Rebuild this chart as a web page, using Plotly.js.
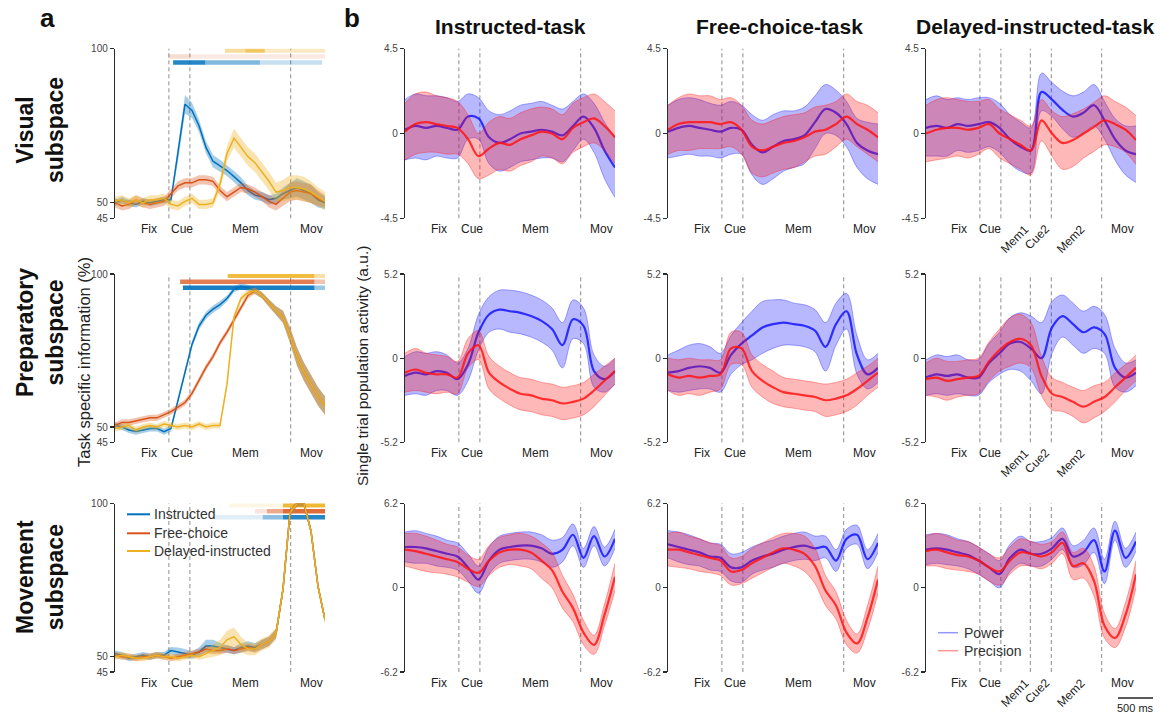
<!DOCTYPE html>
<html><head><meta charset="utf-8">
<script src="https://cdn.plot.ly/plotly-3.0.1.min.js"></script>
<style>html,body{margin:0;padding:0;background:#fff}#chart{width:1166px;height:715px}</style>
</head><body><div id="chart"></div>
<script>
// ---------- time axes (ms) ----------
const tA = [0,100,200,300,400,500,600,700,800,900,1000,1100,1200,1300,1400,1500,1600,1700,1800,1900,2000,2100,2200,2300,2400,2500,2600,2700,2800,2900,3000];
const tB = [0,150,300,450,600,750,900,1050,1200,1350,1500,1650,1800,1950,2100,2250,2400,2550,2700,2850,3000];

// ---------- events and labels ----------
const eventsStd = [770,1070,2510];
const eventsDel = [770,1070,1490,1790,2510];
const labelsStd = ['Fix','Cue','Mem','Mov'];
const labelPosStd = [480,957,1870,2810];
const labelsDel = ['Fix','Cue','Mem1','Cue2','Mem2','Mov'];
const labelPosDel = [470,910,1270,1590,2070,2810];
const labelsDelRotated = [false,false,true,true,true,false];

// ---------- panel a: task specific information (%) ----------
const visInstr = [50,51,50,49.5,50.5,50,50.5,51,51,66,82,80,75,68,63.5,62,60.5,58.5,56.5,54,52.5,52,51,51.5,53,54,55,54,53,51,50];
const visFree  = [50,49,49.5,51,50,49.5,50,50.5,53,55.5,56.5,56.5,57.5,57.5,57,54,52,53.5,55,54.5,53.5,52,50.5,49.5,51.5,53.5,54,53.5,53,51.5,50.5];
const visDel   = [50.5,51,50,51,50,51,51,51.5,49.5,49,50.5,51.5,49.5,49.5,50,56,66,71,68,65,63,60,57,53.5,54,55,55,54.5,53.5,52,50.5];
const visInstrSem = [1,1,1,1,1,1,1,1,1,2.5,3,2.5,2,2,2,2,1.8,1.8,1.8,1.5,1.5,1.5,1.5,1.5,2,2.5,3,3,3,2.5,2];
const visFreeSem  = [1.5,1.5,1.5,1.5,1.5,1.5,1.5,1.5,1.5,1.5,1.5,1.5,1.5,1.5,1.5,1.5,1.5,1.5,1.5,1.5,1.5,1.5,2,2,2.5,3,3,3,3,2.5,2];
const visDelSem   = [1.5,1.5,1.5,1.5,1.5,1.5,1.5,1.5,1.5,1.5,1.5,1.5,1.5,1.5,1.5,2,2.5,3,3,3,3,3,3,3,3.5,4,4,4,3.5,3,3];

const prepInstr = [50.5,50,49,48.5,49,49.5,49.5,48.5,49.5,59,68,77,83,86.5,88.5,90,92,95,96,95.5,94.5,93,90.5,88,86,80,73,68,64,60,57];
const prepFree  = [50.5,51.5,51.5,52,52.5,53,53,54,55,56.5,58,61,65.5,69.5,73,77.5,81,85,89,93,94.5,93,90.5,88,86,80,73,68,64,60,57];
const prepDel   = [49.5,50,50.5,49,50,50.5,50,51,50.5,50,50.5,50,51,50,50.5,50.5,64,86,92,94,94.5,93,90.5,88,86,80,73,68,64,60,57];
const prepInstrSem = [1,1,1,1,1,1,1,1,1,1.2,1.2,1.2,1.2,1.2,1.2,1.2,1,1,1,1,1,1,1.2,1.5,2,2.5,3,3,3,3,3];
const prepFreeSem  = [1,1,1,1,1,1,1,1,1,1,1,1,1,1,1,1,1,1,1,1,1,1,1.2,1.5,2,2.5,3,3,3,3,3];
const prepDelSem   = [1,1,1,1,1,1,1,1,1,1,1,1,1,1,1,1,1,1,1,1,1,1,1.2,1.5,2,2.5,3,3,3,3,3];

const movInstr = [51,50.5,49.5,50,50.5,50,50.5,50.5,52,51.5,51,50.5,51.5,53.5,53.5,53,52.5,52,53,53.5,53,54,55,57.5,72,97,100,100,91,73,62];
const movFree  = [50.5,50,50,49.5,50,50,50.5,50,49.5,50,50.5,51,51.5,52.5,52,52,52.5,52,52.5,53,52.5,54,55,57.5,72,97,100,100,91,73,62];
const movDel   = [50,50.5,50,49.5,49.5,50,50.5,50,50,49.5,50,50.5,50,51,52,53,55.5,56.5,54,52.5,52.5,54,55,57.5,72,97,100,100,91,73,62];
const movInstrSem = [1,1,1,1,1,1,1,1,1.2,1.5,1.5,1.2,1.5,2,2,1.5,1.2,1.2,1.5,1.5,1.5,1.5,1.5,1.5,1.5,1,1,1,1,1,1];
const movFreeSem  = [1,1,1,1,1,1,1,1,1,1,1,1,1,1.2,1.2,1.2,1.2,1.2,1.2,1.2,1.2,1.5,1.5,1.5,1.5,1,1,1,1,1,1];
const movDelSem   = [1,1,1,1,1,1,1,1,1,1,1,1,1,1.5,2,2.5,3,3,2.5,2,2,2,2,2,1.5,1,1,1,1,1,1];

// significance bars: [start ms, end ms, strength]
const sigLevels = [95.5, 97.5, 99.4]; // instructed, free-choice, delayed
const sigVisInstr = [[830,1290,0.85],[1290,2070,0.5],[2070,2960,0.22]];
const sigVisFree  = [[760,1070,0.2],[1070,3000,0.12]];
const sigVisDel   = [[1570,1860,0.45],[1860,2140,0.7],[2140,3000,0.28]];
const sigPrepInstr = [[970,2850,0.9],[2850,3000,0.4]];
const sigPrepFree  = [[930,2850,0.75],[2850,3000,0.35]];
const sigPrepDel   = [[1610,2850,0.85],[2850,3000,0.4]];
const sigMovInstr = [[1430,2110,0.12],[2110,2400,0.45],[2400,3000,0.85]];
const sigMovFree  = [[2000,2170,0.15],[2170,2400,0.5],[2400,3000,0.85]];
const sigMovDel   = [[1640,2400,0.12],[2400,3000,0.9]];

// ---------- panel b: single trial population activity (a.u.) ----------
// row 1 (visual subspace)
const r1c1Pow = [0.2,0.4,0.3,0.4,0.3,0.2,0.9,0.8,-0.2,-0.5,-0.3,0.0,0.1,0.2,0.1,-0.1,0.4,0.9,0.3,-0.9,-1.8];
const r1c1PowSd = [1.6,1.7,1.7,1.6,1.6,1.5,1.2,1.1,1.4,1.5,1.5,1.5,1.5,1.5,1.4,1.4,1.3,1.2,1.3,1.5,1.6];
const r1c1Pre = [0.1,0.5,0.6,0.5,0.4,0.3,-0.3,-1.2,-0.8,-0.5,-0.6,-0.3,-0.1,0.1,0.0,-0.3,0.3,0.6,0.8,0.4,-0.2];
const r1c1PreSd = [1.5,1.6,1.6,1.5,1.5,1.4,1.3,1.2,1.4,1.4,1.4,1.4,1.4,1.3,1.3,1.3,1.3,1.3,1.3,1.3,1.4];
const r1c2Pow = [0.1,0.3,0.4,0.3,0.2,0.1,0.3,0.2,-0.6,-1.0,-0.7,-0.4,-0.3,-0.1,0.6,1.3,1.1,0.5,-0.5,-0.9,-1.1];
const r1c2PowSd = [1.4,1.5,1.5,1.5,1.4,1.4,1.4,1.3,1.6,1.7,1.7,1.6,1.5,1.5,1.4,1.3,1.2,1.2,1.3,1.5,1.6];
const r1c2Pre = [0.2,0.5,0.6,0.6,0.6,0.5,0.6,0.2,-0.7,-0.9,-0.7,-0.5,-0.4,-0.2,0.1,0.2,0.5,0.9,0.5,0.2,-0.2];
const r1c2PreSd = [1.3,1.4,1.5,1.4,1.4,1.3,1.3,1.3,1.4,1.4,1.4,1.4,1.4,1.3,1.3,1.3,1.2,1.2,1.2,1.3,1.3];
const r1c3Pow = [0.3,0.4,0.3,0.5,0.4,0.5,0.6,0.3,-0.3,-0.7,-0.9,2.2,1.8,1.25,0.9,1.1,1.5,0.7,-0.3,-0.9,-1.1];
const r1c3PowSd = [1.5,1.6,1.5,1.4,1.4,1.4,1.3,1.3,1.3,1.3,1.2,1.0,0.9,1.0,1.1,1.1,1.1,1.0,1.1,1.3,1.5];
const r1c3Pre = [0.0,0.2,0.3,0.3,0.2,0.3,0.5,0.0,-0.3,-0.6,-0.9,0.7,0.0,-0.5,-0.35,0.0,0.35,0.7,0.5,0.2,-0.35];
const r1c3PreSd = [1.5,1.6,1.6,1.5,1.5,1.4,1.3,1.3,1.3,1.3,1.3,1.1,1.2,1.4,1.4,1.3,1.3,1.3,1.2,1.2,1.3];
// row 2 (preparatory subspace)
const r2c1Pow = [-1.1,-0.9,-1.0,-0.8,-0.9,-1.3,-0.4,1.6,2.7,3.0,2.9,2.8,2.6,2.3,1.8,0.8,2.4,2.0,-0.8,-1.3,-0.8];
const r2c1PowSd = [1.2,1.3,1.3,1.2,1.1,1.0,1.0,1.1,1.1,1.2,1.3,1.3,1.3,1.3,1.3,1.4,1.2,1.1,1.0,0.8,0.8];
const r2c1Pre = [-0.9,-0.7,-0.9,-1.0,-1.0,-1.2,0.3,0.8,-0.9,-1.5,-1.9,-2.2,-2.3,-2.5,-2.6,-2.8,-2.7,-2.5,-2.0,-1.4,-0.8];
const r2c1PreSd = [1.2,1.3,1.2,1.2,1.1,1.0,0.9,0.9,1.0,1.0,1.0,1.0,1.0,1.0,1.0,1.0,1.0,1.0,1.0,0.9,0.8];
const r2c2Pow = [-0.9,-0.8,-0.6,-0.5,-0.6,-0.9,0.2,0.9,1.4,1.9,2.1,2.2,2.1,2.0,1.7,0.7,2.1,2.9,0.2,-1.0,-0.6];
const r2c2PowSd = [1.1,1.3,1.4,1.4,1.3,1.2,1.2,1.3,1.5,1.6,1.5,1.4,1.3,1.3,1.3,1.5,1.3,1.1,1.2,0.9,0.9];
const r2c2Pre = [-1.0,-1.2,-1.1,-1.2,-1.1,-1.0,0.6,0.6,-0.8,-1.4,-1.8,-2.1,-2.2,-2.3,-2.4,-2.6,-2.5,-2.3,-1.9,-1.4,-0.9];
const r2c2PreSd = [1.0,1.1,1.1,1.1,1.0,0.9,1.0,1.0,1.0,1.0,1.0,0.9,0.9,0.9,0.9,1.0,1.0,1.0,1.0,0.9,0.9];
const r2c3Pow = [-1.2,-1.0,-1.1,-1.0,-1.2,-1.2,-0.3,0.3,0.9,1.0,0.6,0.0,1.9,2.6,2.1,1.6,1.9,1.5,-0.6,-1.2,-0.9];
const r2c3PowSd = [1.1,1.2,1.2,1.2,1.1,1.1,1.2,1.3,1.6,1.8,2.0,2.2,1.6,1.3,1.3,1.3,1.3,1.2,1.2,0.9,0.8];
const r2c3Pre = [-1.3,-1.2,-1.4,-1.3,-1.2,-1.1,-0.2,0.5,1.0,1.2,0.8,-1.1,-2.2,-2.4,-2.7,-3.0,-2.7,-2.4,-1.8,-1.2,-0.6];
const r2c3PreSd = [1.0,1.2,1.2,1.1,1.1,1.1,1.2,1.3,1.5,1.5,1.4,1.2,1.0,0.9,0.9,1.0,1.0,0.9,0.9,0.8,0.8];
// row 3 (movement subspace)
const r3c1Pow = [3.0,3.0,2.9,2.7,2.5,2.3,1.5,0.6,2.0,2.8,3.0,3.1,3.1,2.9,2.5,2.8,3.9,2.2,3.8,2.3,3.6];
const r3c1PowSd = [1.1,1.2,1.1,1.1,1.0,1.0,1.0,1.0,1.0,1.0,1.0,1.0,1.0,1.0,1.0,0.9,0.8,0.7,0.7,0.7,0.7];
const r3c1Pre = [2.8,2.7,2.5,2.3,2.1,1.9,1.4,1.1,2.0,2.6,2.8,2.8,2.6,2.0,1.3,-0.3,-1.5,-3.3,-4.2,-2.0,0.8];
const r3c1PreSd = [1.2,1.3,1.3,1.2,1.1,1.1,1.0,1.0,1.1,1.1,1.1,1.2,1.2,1.3,1.3,1.2,1.0,0.9,0.7,0.8,1.0];
const r3c2Pow = [3.2,3.0,2.8,2.6,2.3,2.2,1.5,1.5,2.0,2.3,2.5,2.8,3.0,3.1,2.9,3.0,2.0,3.6,3.9,2.1,3.3];
const r3c2PowSd = [1.0,1.1,1.1,1.0,1.0,1.0,1.0,1.1,1.0,1.0,1.0,1.0,1.0,1.0,0.9,0.8,0.8,0.7,0.7,0.7,0.7];
const r3c2Pre = [2.8,2.8,2.6,2.4,2.2,2.0,1.2,1.3,1.8,2.2,2.6,2.9,2.8,2.5,1.6,-0.2,-1.3,-3.3,-4.1,-2.2,0.6];
const r3c2PreSd = [1.2,1.3,1.2,1.2,1.1,1.1,1.0,1.0,1.1,1.1,1.1,1.1,1.2,1.3,1.3,1.1,1.0,0.9,0.7,0.9,1.0];
const r3c3Pow = [2.8,2.9,2.8,2.6,2.4,2.0,1.5,1.0,2.2,2.8,2.5,2.5,2.9,3.6,2.3,2.6,3.5,1.2,4.2,2.2,3.4];
const r3c3PowSd = [1.1,1.1,1.1,1.0,1.0,1.0,1.0,1.0,1.0,1.0,0.9,0.9,0.8,0.8,0.8,0.9,0.9,0.9,0.7,0.7,0.7];
const r3c3Pre = [2.7,2.8,2.6,2.4,2.3,2.0,1.5,1.2,2.0,2.6,2.5,2.3,2.6,3.3,1.6,1.8,0.5,-2.8,-3.7,-2.0,1.0];
const r3c3PreSd = [1.1,1.2,1.2,1.1,1.1,1.0,1.0,1.0,1.0,1.0,0.9,0.9,0.8,0.8,1.0,1.1,1.1,0.9,0.7,0.9,1.0];

const yLimB = [4.5, 5.2, 6.2];
const panelTitles = ['Instructed-task','Free-choice-task','Delayed-instructed-task'];
const rowNames = ['Visual<br>subspace','Preparatory<br>subspace','Movement<br>subspace'];
const legendA = ['Instructed','Free-choice','Delayed-instructed'];
const legendB = ['Power','Precision'];
const scaleBarMs = 500;

// ---------- layout geometry ----------
const W = 1166, H = 715;
const xDomA = [115,325];
const xDomB = [[405,615],[668,878],[926,1136]];
const yDomRows = [[48.7,218.3],[274,442.3],[503.5,672]];
const dx = p => [p[0]/W, p[1]/W];
const dy = p => [1 - p[1]/H, 1 - p[0]/H];
const sfx = i => (i === 1 ? '' : String(i));

const colA = ['0,114,189','217,83,25','237,177,32'];
const colB = ['20,20,255','255,20,20'];
const FONT = 'Liberation Sans, Arial, Helvetica, sans-serif';

const traces = [];
const layout = {
  width: W, height: H, margin: {l:0,r:0,t:0,b:0},
  paper_bgcolor: '#fff', plot_bgcolor: 'rgba(0,0,0,0)', showlegend: false,
  font: {family: FONT, color: '#333'},
  shapes: [], annotations: []
};

function addAxes(i, xd, yd, yrange, tv, tt) {
  const s = sfx(i);
  layout['xaxis'+s] = {domain: dx(xd), range: [0,3000], visible: false, fixedrange: true, anchor: 'y'+s};
  layout['yaxis'+s] = {domain: dy(yd), range: yrange, anchor: 'x'+s, showline: true, linecolor: '#2b2b2b', linewidth: 1.2,
    ticks: 'outside', ticklen: 4, tickwidth: 1.1, tickcolor: '#2b2b2b', tickvals: tv, ticktext: tt,
    tickfont: {size: 10, color: '#444', family: FONT}, showgrid: false, zeroline: false, fixedrange: true};
}

function band(i, x, mean, sd, rgb, fillA, edgeA, edgeW, meanA, meanW, shape) {
  const s = sfx(i);
  const lo = mean.map((m,k) => m - sd[k]);
  const hi = mean.map((m,k) => m + sd[k]);
  const base = {type:'scatter', mode:'lines', x: x, xaxis:'x'+s, yaxis:'y'+s, hoverinfo:'skip'};
  traces.push(Object.assign({}, base, {y: lo, line:{color:`rgba(${rgb},${edgeA})`, width: edgeW, shape: shape, smoothing: 1}}));
  traces.push(Object.assign({}, base, {y: hi, fill:'tonexty', fillcolor:`rgba(${rgb},${fillA})`, line:{color:`rgba(${rgb},${edgeA})`, width: edgeW, shape: shape, smoothing: 1}}));
  traces.push(Object.assign({}, base, {y: mean, line:{color:`rgba(${rgb},${meanA})`, width: meanW, shape: shape, smoothing: 1}}));
}

function sigBars(i, segs, level, rgb) {
  const s = sfx(i);
  segs.forEach(sg => {
    traces.push({type:'scatter', mode:'lines', x:[sg[0], sg[1]], y:[level, level], xaxis:'x'+s, yaxis:'y'+s, hoverinfo:'skip',
      line:{color:`rgba(${rgb},${sg[2]})`, width: 4.5}});
  });
}

function eventLines(i, evs) {
  const s = sfx(i);
  evs.forEach(e => layout.shapes.push({type:'line', xref:'x'+s, yref:'y'+s+' domain', x0:e, x1:e, y0:0, y1:1,
    line:{color:'#8c8c8c', width:1, dash:'4px,3px'}, layer:'below'}));
}

function eventLabels(i, labels, pos, rot) {
  const s = sfx(i);
  labels.forEach((lb,k) => {
    const r = rot && rot[k];
    layout.annotations.push({xref:'x'+s, yref:'y'+s+' domain', x: pos[k], y: 0, yanchor:'top', xanchor:'center',
      yshift: r ? -1 : -2, textangle: r ? -45 : 0, showarrow:false, text: lb, font:{size:12, color:'#222', family: FONT}});
  });
}

// ---------- panel a ----------
const aMeans = [[visInstr,visFree,visDel],[prepInstr,prepFree,prepDel],[movInstr,movFree,movDel]];
const aSems  = [[visInstrSem,visFreeSem,visDelSem],[prepInstrSem,prepFreeSem,prepDelSem],[movInstrSem,movFreeSem,movDelSem]];
const aSig   = [[sigVisInstr,sigVisFree,sigVisDel],[sigPrepInstr,sigPrepFree,sigPrepDel],[sigMovInstr,sigMovFree,sigMovDel]];
for (let r = 0; r < 3; r++) {
  const i = r + 1;
  addAxes(i, xDomA, yDomRows[r], [45,100], [45,50,100], ['45','50','100']);
  eventLines(i, eventsStd);
  eventLabels(i, labelsStd, labelPosStd, null);
  for (let c = 0; c < 3; c++) sigBars(i, aSig[r][c], sigLevels[c], colA[c]);
  for (let c = 0; c < 3; c++) band(i, tA, aMeans[r][c], aSems[r][c], colA[c], 0.35, 0, 0, 1, 1.5, 'linear');
}

// ---------- panel b ----------
const bPow = [[r1c1Pow,r1c2Pow,r1c3Pow],[r2c1Pow,r2c2Pow,r2c3Pow],[r3c1Pow,r3c2Pow,r3c3Pow]];
const bPowSd = [[r1c1PowSd,r1c2PowSd,r1c3PowSd],[r2c1PowSd,r2c2PowSd,r2c3PowSd],[r3c1PowSd,r3c2PowSd,r3c3PowSd]];
const bPre = [[r1c1Pre,r1c2Pre,r1c3Pre],[r2c1Pre,r2c2Pre,r2c3Pre],[r3c1Pre,r3c2Pre,r3c3Pre]];
const bPreSd = [[r1c1PreSd,r1c2PreSd,r1c3PreSd],[r2c1PreSd,r2c2PreSd,r2c3PreSd],[r3c1PreSd,r3c2PreSd,r3c3PreSd]];
for (let r = 0; r < 3; r++) {
  for (let c = 0; c < 3; c++) {
    const i = 4 + r*3 + c;
    const L = yLimB[r];
    addAxes(i, xDomB[c], yDomRows[r], [-L, L], [-L, 0, L], ['-'+L, '0', String(L)]);
    eventLines(i, c === 2 ? eventsDel : eventsStd);
    if (c === 2) eventLabels(i, labelsDel, labelPosDel, labelsDelRotated);
    else eventLabels(i, labelsStd, labelPosStd, null);
    band(i, tB, bPow[r][c], bPowSd[r][c], colB[0], 0.3, 0.45, 0.8, 0.85, 2.2, 'spline');
    band(i, tB, bPre[r][c], bPreSd[r][c], colB[1], 0.3, 0.45, 0.8, 0.85, 2.2, 'spline');
  }
}

// ---------- scale bar ----------
layout.xaxis13 = {domain:[1118/W, 1153/W], range:[0, scaleBarMs], visible:false, fixedrange:true, anchor:'y13'};
layout.yaxis13 = {domain:[1-704/H, 1-692/H], range:[-1,1], visible:false, fixedrange:true, anchor:'x13'};
traces.push({type:'scatter', mode:'lines', x:[0, scaleBarMs], y:[0,0], xaxis:'x13', yaxis:'y13', hoverinfo:'skip', line:{color:'#222', width:1.3}});
layout.annotations.push({xref:'paper', yref:'paper', x:1135.5/W, y:1-707.5/H, text: scaleBarMs + ' ms', showarrow:false, font:{size:11, color:'#222'}, xanchor:'center', yanchor:'middle'});

// ---------- text ----------
const ann = (x, y, text, opts) => layout.annotations.push(Object.assign({xref:'paper', yref:'paper', x:x/W, y:1-y/H, text:text, showarrow:false, xanchor:'center', yanchor:'middle'}, opts));
ann(47, 18, '<b>a</b>', {font:{size:26, color:'#111'}});
ann(352, 18, '<b>b</b>', {font:{size:26, color:'#111'}});
const titleX = [510, 779, 1035];
panelTitles.forEach((t,k) => ann(titleX[k], 27, '<b>'+t+'</b>', {font:{size:21, color:'#111'}}));
const rowY = [130, 333, 577];
rowNames.forEach((t,k) => ann(40, rowY[k], '<b>'+t+'</b>', {textangle:-90, font:{size:23, color:'#111'}}));
ann(84, 362, 'Task specific information (%)', {textangle:-90, font:{size:16.5, color:'#222'}});
ann(362, 366, 'Single trial population activity (a.u.)', {textangle:-90, font:{size:15.5, color:'#222'}});

// legend a
const legAY = [514.3, 533.3, 551];
legendA.forEach((t,k) => {
  layout.shapes.push({type:'line', xref:'paper', yref:'paper', x0:127/W, x1:150/W, y0:1-legAY[k]/H, y1:1-legAY[k]/H, line:{color:`rgb(${colA[k]})`, width:2}});
  ann(152, legAY[k], t, {xanchor:'left', font:{size:14, color:'#333'}});
});
// legend b
const legBY = [632.7, 650.7];
legendB.forEach((t,k) => {
  layout.shapes.push({type:'line', xref:'paper', yref:'paper', x0:938/W, x1:958/W, y0:1-legBY[k]/H, y1:1-legBY[k]/H, line:{color:`rgba(${colB[k]},0.45)`, width:1.5}});
  ann(962, legBY[k], t, {xanchor:'left', font:{size:14, color:'#333'}});
});

Plotly.newPlot('chart', traces, layout, {staticPlot:true, displayModeBar:false});
</script>
</body></html>
